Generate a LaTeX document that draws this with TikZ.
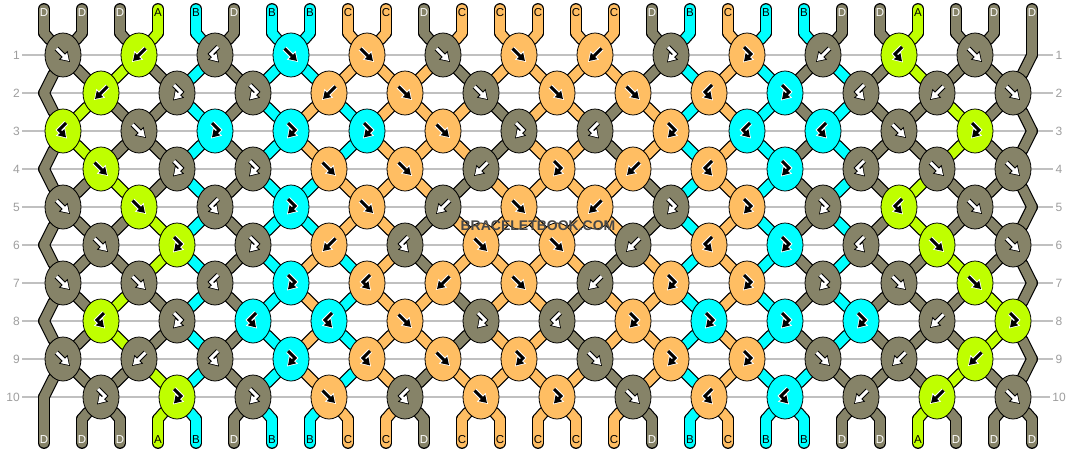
\documentclass[tikz,border=0pt]{standalone}
\usepackage{fontspec}
\setmainfont{Liberation Sans}
\usetikzlibrary{shapes.geometric,arrows.meta}
\definecolor{strA}{RGB}{191,255,0}
\definecolor{strB}{RGB}{0,255,255}
\definecolor{strC}{RGB}{255,190,99}
\definecolor{strD}{RGB}{134,131,104}
\colorlet{penA}{black}
\colorlet{penB}{black}
\colorlet{penC}{black}
\colorlet{penD}{white}
\colorlet{rimA}{white}
\colorlet{rimB}{white}
\colorlet{rimC}{white}
\colorlet{rimD}{black}
\definecolor{rulegray}{RGB}{192,192,192}
\definecolor{numgray}{RGB}{158,158,158}
\definecolor{markgray}{RGB}{72,72,72}
\pgfdeclarelayer{strands}
\pgfsetlayers{strands,main}

\newcommand{\knotglyph}[2]{\draw[glyphrim=#1] #2; \draw[glyphpen=#1] #2;}

\tikzset{
    knot/.style={ellipse, draw=black, line width=0.8pt, fill=#1,
        minimum width=36pt, minimum height=44pt, inner sep=0pt},
    strandrim/.style={line width=11.8pt, black, line cap=round, line join=round},
    strand/.style={line width=9.4pt, #1, line cap=round, line join=round},
    glyphrim/.style={draw=rim#1, line width=5pt, -{Triangle[length=9.6pt,width=11.6pt]}},
    glyphpen/.style={draw=pen#1, line width=2.9pt, shorten >=1.4pt, -{Triangle[length=7.2pt,width=8.6pt]}},
    pics/glyphF/.style={code={\knotglyph{#1}{(-6.5,-6.5) -- (7,7)}}},
    pics/glyphB/.style={code={\knotglyph{#1}{(6.5,-6.5) -- (-7,7)}}},
    pics/glyphFB/.style={code={\knotglyph{#1}{(-3,-8) -- (4,-1) -- (-4,7.5)}}},
    pics/glyphBF/.style={code={\knotglyph{#1}{(3,-8) -- (-4,-1) -- (4,7.5)}}},
    strlabel/.style={font=\fontsize{11.5}{11.5}\selectfont, text=pen#1, inner sep=0pt},
    rownum/.style={font=\fontsize{12}{12}\selectfont, text=numgray, inner sep=2pt}
}

\begin{document}
\begin{tikzpicture}[x=1pt,y=-1pt]
    \path[use as bounding box] (0,0) rectangle (1076,452);

    % Row rules and numbers
    \begin{pgfonlayer}{strands}
        \fill[white] (0,0) rectangle (1076,452);
        \foreach \r in {1,...,10} {
            \node[rownum, anchor=east] (ln\r) at (22,{55+38*(\r-1)}) {\r};
            \node[rownum] (rn\r) at (1059,{55+38*(\r-1)}) {\r};
            \draw[rulegray, line width=1.2pt] (ln\r) -- (rn\r);
        }
    \end{pgfonlayer}

    % Knots (type/colour, left to right)
    \foreach \r/\knots in {
        1/{F/D,B/A,BF/D,F/B,F/C,F/D,F/C,B/C,FB/D,FB/C,B/D,BF/A,F/D},
        2/{B/A,FB/D,FB/D,B/C,F/C,F/D,F/C,F/C,BF/C,FB/B,BF/D,B/D,F/D},
        3/{BF/A,F/D,FB/B,FB/B,FB/B,F/C,FB/D,BF/D,FB/C,BF/B,BF/B,F/D,FB/A},
        4/{F/A,FB/D,FB/D,F/C,F/C,B/D,FB/C,B/C,BF/C,FB/B,BF/D,F/D,F/D},
        5/{F/D,F/A,BF/D,FB/B,F/C,B/D,F/C,B/C,FB/D,FB/C,FB/D,BF/A,F/D},
        6/{F/D,FB/A,FB/D,B/C,BF/D,F/C,F/C,B/D,BF/C,FB/B,BF/D,F/A,F/D},
        7/{F/D,F/D,BF/D,FB/B,BF/C,B/C,F/C,B/D,FB/C,FB/C,FB/D,F/D,F/A},
        8/{BF/A,FB/D,BF/B,BF/B,F/C,FB/D,BF/D,FB/C,FB/B,FB/B,FB/B,B/D,FB/A},
        9/{F/D,B/D,BF/D,FB/B,BF/C,F/C,FB/C,F/D,FB/C,FB/C,F/D,B/D,B/A},
        10/{FB/D,FB/A,FB/D,F/C,BF/D,F/C,FB/C,F/D,BF/C,BF/B,B/D,B/A,F/D}%
    } {
        \foreach \t/\c [count=\i] in \knots {
            \pgfmathtruncatemacro{\s}{\i-mod(\r,2)}
            \node[knot=str\c] (k\r-\s) at ({25+38*mod(\r,2)+76*\s},{55+38*(\r-1)}) {};
            \pic at (k\r-\s) {glyph\t=\c};
        }
    }

    % Free strings at the edges
    \foreach \r in {1,3,5,7,9}
        \coordinate (k\r-13) at (1032,{55+38*(\r-1)});
    \foreach \r in {2,4,6,8,10}
        \coordinate (k\r-0) at (44,{55+38*(\r-1)});

    % String ends and their letters
    \foreach \c [count=\i from 0] in {D,D,D,A,B,D,B,B,C,C,D,C,C,C,C,C,D,B,C,B,B,D,D,A,D,D,D} {
        \coordinate (top\i) at ({44+38*\i},9);
        \coordinate (k0-\i) at ({44+38*\i},33);
        \coordinate (k11-\i) at ({44+38*\i},419);
        \coordinate (bot\i) at ({44+38*\i},443);
        \node[strlabel=\c] (tl\i) at ({44+38*\i},12.5) {\c};
        \node[strlabel=\c] (bl\i) at ({44+38*\i},440) {\c};
    }

    % Strings between rows (colour of each position after row r)
    \begin{pgfonlayer}{strands}
    \foreach \layer in {0,1} {
        \foreach \r/\st in {
            0/{D,D,D,A,B,D,B,B,C,C,D,C,C,C,C,C,D,B,C,B,B,D,D,A,D,D,D},
            1/{D,D,A,D,B,D,B,B,C,C,C,D,C,C,C,C,D,B,C,B,D,B,D,A,D,D,D},
            2/{D,A,D,D,B,D,B,C,B,C,C,C,D,C,C,D,C,B,C,B,D,B,D,D,A,D,D},
            3/{D,A,D,D,B,D,B,C,B,C,C,C,D,C,C,D,C,B,C,B,D,B,D,D,A,D,D},
            4/{D,D,A,D,B,D,B,B,C,C,C,D,C,C,C,C,D,B,C,B,D,B,D,A,D,D,D},
            5/{D,D,D,A,B,D,B,B,C,C,D,C,C,C,C,C,D,B,C,B,D,B,D,A,D,D,D},
            6/{D,D,D,A,B,D,B,C,B,C,D,C,C,C,C,D,C,B,C,B,D,B,D,D,A,D,D},
            7/{D,D,A,D,B,D,B,C,B,C,C,D,C,C,D,C,C,B,C,B,D,B,D,D,D,A,D},
            8/{D,D,A,D,B,D,B,C,B,C,C,D,C,C,D,C,C,B,C,B,D,B,D,D,D,A,D},
            9/{D,D,D,A,B,D,B,C,B,C,D,C,C,C,C,D,C,B,C,B,B,D,D,D,A,D,D},
            10/{D,D,D,A,B,D,B,B,C,C,D,C,C,C,C,C,D,B,C,B,B,D,D,A,D,D,D}%
        } {
            \pgfmathtruncatemacro{\rr}{\r+1}
            \foreach \c [count=\p from 0] in \st {
                \pgfmathtruncatemacro{\sa}{(\r==0||\r==11) ? \p : floor((\p+1-mod(\r,2))/2)}
                \pgfmathtruncatemacro{\sb}{(\rr==0||\rr==11) ? \p : floor((\p+1-mod(\rr,2))/2)}
                \ifnum\layer=0\relax
                    \draw[strandrim] (k\r-\sa) -- (k\rr-\sb);
                    \ifnum\r=0\relax \draw[strandrim] (top\p) -- (k0-\p); \fi
                    \ifnum\r=10\relax \draw[strandrim] (k11-\p) -- (bot\p); \fi
                \else
                    \draw[strand=str\c] (k\r-\sa) -- (k\rr-\sb);
                    \ifnum\r=0\relax \draw[strand=str\c] (top\p) -- (k0-\p); \fi
                    \ifnum\r=10\relax \draw[strand=str\c] (k11-\p) -- (bot\p); \fi
                \fi
            }
        }
    }
    \end{pgfonlayer}

    % Watermark
    \node[font=\bfseries\fontsize{14}{14}\selectfont, text=markgray] (mark) at (538,226) {BRACELETBOOK.COM};
\end{tikzpicture}
\end{document}
